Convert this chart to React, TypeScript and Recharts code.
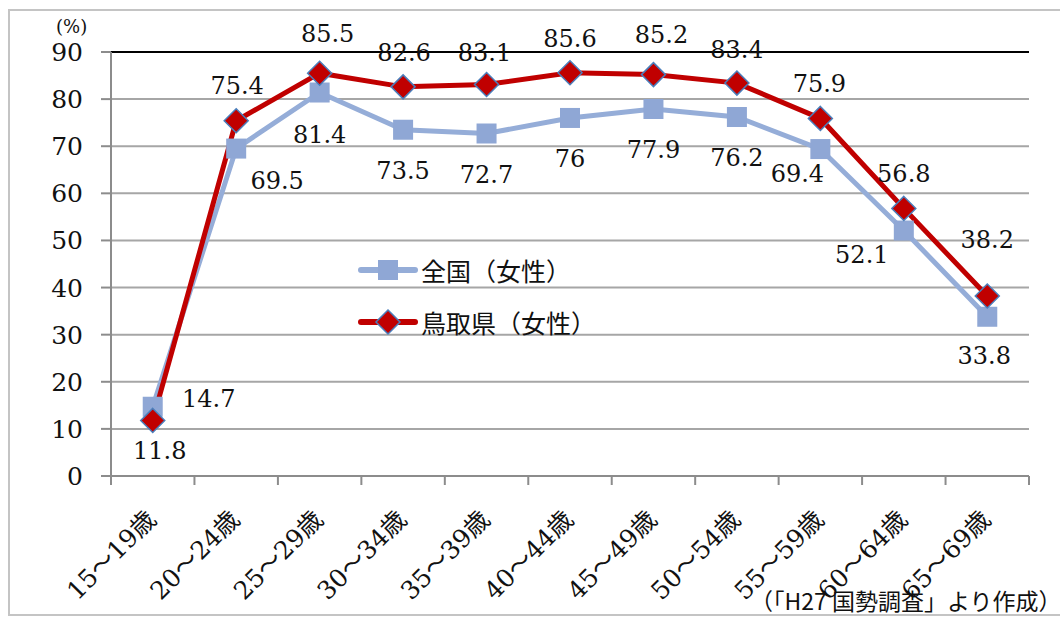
import React from 'react';
import { LineChart, Line, XAxis, YAxis, CartesianGrid, Legend, ReferenceLine, LabelList } from 'recharts';

const categories = ['15〜19歳', '20〜24歳', '25〜29歳', '30〜34歳', '35〜39歳', '40〜44歳', '45〜49歳', '50〜54歳', '55〜59歳', '60〜64歳', '65〜69歳'];
const nationalValues = [14.7, 69.5, 81.4, 73.5, 72.7, 76, 77.9, 76.2, 69.4, 52.1, 33.8];
const tottoriValues = [11.8, 75.4, 85.5, 82.6, 83.1, 85.6, 85.2, 83.4, 75.9, 56.8, 38.2];
const yTicks = [0, 10, 20, 30, 40, 50, 60, 70, 80, 90];
const seriesNames = ['全国（女性）', '鳥取県（女性）'];

// label offsets from each point (dx, dy), as placed in the original
const nationalLabelOffsets = [[56, -9], [41, 31], [0, 41], [0, 40], [0, 40], [0, 40], [0, 40], [0, 40], [-23, 24], [-42, 23], [-3, 38]];
const tottoriLabelOffsets = [[7, 30], [1, -36], [8, -40], [1, -35], [-2, -33], [0, -35], [8, -41], [0, -34], [-1, -35], [0, -35], [0, -57]];

const data = categories.map((name, i) => ({
    i,
    name,
    national: nationalValues[i],
    tottori: tottoriValues[i],
}));

// tick positions: category centres for labels, half steps for the boundary marks
const xTicks = categories.flatMap((_, i) => [i - 0.5, i]).concat([categories.length - 0.5]);

const SERIF = "'DejaVu Serif', 'Liberation Serif', 'Noto Sans CJK JP', serif";
const GOTHIC = "'Noto Sans CJK JP', 'Noto Sans', sans-serif";
const BLUE_LINE = '#95ADD8';
const BLUE_MARK = '#8FA7D5';
const RED = '#C00000';
const DIAMOND_EDGE = '#4A7EBB';
const GRID = '#A6A6A6';
const AXIS = '#8C8C8C';

const SquareDot = (props: any) => {
    const { cx, cy, index } = props;
    if (cx == null || cy == null) return <g key={index} />;
    return <rect key={index} x={cx - 10} y={cy - 10} width={20} height={20} fill={BLUE_MARK} />;
};

const DiamondDot = (props: any) => {
    const { cx, cy, index } = props;
    if (cx == null || cy == null) return <g key={index} />;
    const r = 12;
    return (
        <polygon
            key={index}
            points={`${cx},${cy - r} ${cx + r},${cy} ${cx},${cy + r} ${cx - r},${cy}`}
            fill={RED}
            stroke={DIAMOND_EDGE}
            strokeWidth={1.5}
        />
    );
};

const makeLabel = (offsets: number[][]) => (props: any) => {
    const { x, y, index, value } = props;
    const [dx, dy] = offsets[index] || [0, 0];
    return (
        <text x={x + dx} y={y + dy + 9} textAnchor="middle" style={{ fontFamily: SERIF, fontSize: 24 }} fill="#111">
            {value}
        </text>
    );
};

const YTick = (props: any) => {
    const { x, y, payload } = props;
    return (
        <text x={x} y={y + 9} textAnchor="end" style={{ fontFamily: SERIF, fontSize: 25 }} fill="#111">
            {payload.value}
        </text>
    );
};

const XTick = (props: any) => {
    const { x, y, payload } = props;
    const v = payload.value;
    if (!Number.isInteger(v)) {
        return <line x1={x} y1={y} x2={x} y2={y + 9} stroke={AXIS} strokeWidth={2} />;
    }
    const ax = x + 5;
    const ay = y + 45;
    return (
        <text x={ax} y={ay} textAnchor="end" transform={`rotate(-45 ${ax} ${ay})`} style={{ fontFamily: SERIF, fontSize: 25 }} fill="#111">
            {categories[v]}
        </text>
    );
};

const renderLegend = () => (
    <div style={{ fontFamily: GOTHIC, fontSize: 25, color: '#111' }}>
        <div style={{ display: 'flex', alignItems: 'center', height: 52 }}>
            <svg width={62} height={30}>
                <line x1={4} y1={15} x2={58} y2={15} stroke={BLUE_LINE} strokeWidth={6} strokeLinecap="round" />
                <rect x={21} y={5} width={20} height={20} fill={BLUE_MARK} />
            </svg>
            <span style={{ marginLeft: 2 }}>{seriesNames[0]}</span>
        </div>
        <div style={{ display: 'flex', alignItems: 'center', height: 52 }}>
            <svg width={62} height={30}>
                <line x1={4} y1={15} x2={58} y2={15} stroke={RED} strokeWidth={6} strokeLinecap="round" />
                <polygon points="31,3 43,15 31,27 19,15" fill={RED} stroke={DIAMOND_EDGE} strokeWidth={1.5} />
            </svg>
            <span style={{ marginLeft: 2 }}>{seriesNames[1]}</span>
        </div>
    </div>
);

const App: React.FC = () => {
    return (
        <div style={{ position: 'absolute', left: 0, top: 0, width: 1060, height: 618, overflow: 'hidden', background: '#fff' }}>
            <div style={{ position: 'absolute', left: 8, top: 9, width: 1100, height: 603, border: '2px solid #C4C4C4' }} />
            <div style={{ position: 'absolute', left: 56, top: 16, fontFamily: SERIF, fontSize: 18, color: '#111' }}>(%)</div>
            <div style={{ position: 'absolute', left: 0, top: 0 }}>
                <LineChart width={1060} height={618} data={data} margin={{ top: 52, right: 31, bottom: 42, left: 0 }}>
                    <CartesianGrid vertical={false} stroke={GRID} strokeWidth={2} />
                    <XAxis
                        dataKey="i"
                        type="number"
                        domain={[-0.5, categories.length - 0.5]}
                        ticks={xTicks}
                        interval={0}
                        height={100}
                        tickLine={false}
                        tickSize={0}
                        tickMargin={0}
                        axisLine={{ stroke: AXIS, strokeWidth: 2 }}
                        tick={<XTick />}
                    />
                    <YAxis
                        domain={[0, 90]}
                        ticks={yTicks}
                        interval={0}
                        width={111}
                        tickSize={10}
                        tickMargin={18}
                        axisLine={{ stroke: AXIS, strokeWidth: 2 }}
                        tickLine={{ stroke: AXIS, strokeWidth: 2 }}
                        tick={<YTick />}
                    />
                    <YAxis
                        yAxisId="r"
                        orientation="right"
                        domain={[0, 90]}
                        width={0}
                        tick={false}
                        tickLine={false}
                        axisLine={{ stroke: '#000', strokeWidth: 2 }}
                    />
                    <ReferenceLine y={90} stroke="#000" strokeWidth={2} />
                    <Legend
                        content={renderLegend}
                        verticalAlign="middle"
                        align="center"
                        wrapperStyle={{ left: 357, top: 244, width: 320 }}
                    />
                    <Line
                        dataKey="national"
                        name={seriesNames[0]}
                        stroke={BLUE_LINE}
                        strokeWidth={5}
                        dot={SquareDot}
                        activeDot={false}
                        isAnimationActive={false}
                    >
                        <LabelList dataKey="national" content={makeLabel(nationalLabelOffsets)} />
                    </Line>
                    <Line
                        dataKey="tottori"
                        name={seriesNames[1]}
                        stroke={RED}
                        strokeWidth={5}
                        dot={DiamondDot}
                        activeDot={false}
                        isAnimationActive={false}
                    >
                        <LabelList dataKey="tottori" content={makeLabel(tottoriLabelOffsets)} />
                    </Line>
                </LineChart>
            </div>
            <div style={{ position: 'absolute', left: 750, top: 583, fontFamily: GOTHIC, fontSize: 23, color: '#111', whiteSpace: 'nowrap' }}>
                （「H27 国勢調査」より作成）
            </div>
        </div>
    );
};

export default App;
